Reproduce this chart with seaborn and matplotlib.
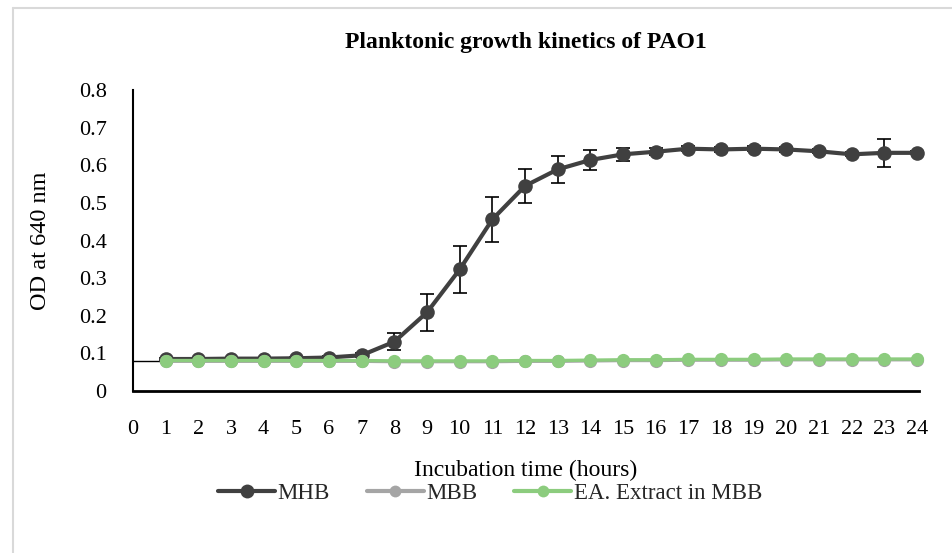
import matplotlib
matplotlib.use("Agg")
import matplotlib.pyplot as plt
from matplotlib.lines import Line2D
import seaborn as sns
import pandas as pd

hours = list(range(1, 25))
mhb = [0.085, 0.085, 0.086, 0.086, 0.087, 0.089, 0.095, 0.131, 0.209, 0.323,
       0.456, 0.545, 0.589, 0.614, 0.629, 0.636, 0.644, 0.642, 0.644, 0.642,
       0.637, 0.629, 0.633, 0.633]
mhb_err = [0.003, 0.003, 0.003, 0.003, 0.003, 0.003, 0.005, 0.023, 0.050, 0.063,
           0.060, 0.046, 0.035, 0.027, 0.018, 0.010, 0.006, 0.006, 0.006, 0.006,
           0.005, 0.005, 0.037, 0.004]
mbb = [0.079, 0.079, 0.079, 0.079, 0.079, 0.079, 0.079, 0.078, 0.078, 0.078,
       0.078, 0.079, 0.079, 0.080, 0.081, 0.081, 0.082, 0.082, 0.082, 0.083,
       0.083, 0.083, 0.083, 0.083]
ea = [0.081, 0.081, 0.081, 0.081, 0.081, 0.081, 0.081, 0.080, 0.080, 0.080,
      0.080, 0.081, 0.081, 0.082, 0.083, 0.083, 0.084, 0.084, 0.084, 0.085,
      0.085, 0.085, 0.085, 0.085]
baseline_span = [0, 1]
baseline_value = 0.081
x_ticks = list(range(0, 25))
y_ticks = [0, 0.1, 0.2, 0.3, 0.4, 0.5, 0.6, 0.7, 0.8]
series_names = ["MHB", "MBB", "EA. Extract in MBB"]
colors = ["#404040", "#A5A5A5", "#8CCC7E"]

sns.set_theme(style="white")
plt.rcParams["font.family"] = ["Liberation Serif", "DejaVu Serif"]

fig = plt.figure(figsize=(9.53, 5.53), dpi=100)
ax = fig.add_axes([133 / 953, 1 - 391 / 553, (919 - 133) / 953, (391 - 90) / 553])

df = pd.DataFrame({
    "hour": hours * 3,
    "od": mhb + mbb + ea,
    "series": [series_names[0]] * 24 + [series_names[1]] * 24 + [series_names[2]] * 24,
})

# thin connector from the origin column to the first reading
ax.plot(baseline_span, [baseline_value, baseline_value], color="black", lw=1.0, zorder=1)

ax.errorbar(hours, mhb, yerr=mhb_err, fmt="none", ecolor="black",
            elinewidth=1.2, capsize=5, capthick=1.2, zorder=2, clip_on=False)

for name, col, lw, ms, z in zip(series_names, colors, [3.0, 2.4, 2.4], [10.5, 9.5, 9.5], [3, 4, 5]):
    sub = df[df["series"] == name]
    sns.lineplot(data=sub, x="hour", y="od", ax=ax, color=col, linewidth=lw,
                 marker="o", markersize=ms, markeredgewidth=0, zorder=z,
                 legend=False, clip_on=False)

ax.set_xlim(0, 24.06)
ax.set_ylim(0, 0.8)
ax.set_xticks(x_ticks)
ax.set_xticklabels([str(t) for t in x_ticks])
ax.set_yticks(y_ticks)
ax.set_yticklabels(["0" if t == 0 else f"{t:.1f}" for t in y_ticks])
ax.tick_params(axis="both", length=0, labelsize=16, colors="black")
ax.tick_params(axis="x", pad=21)
ax.tick_params(axis="y", pad=19)

for side in ["top", "right"]:
    ax.spines[side].set_visible(False)
ax.spines["left"].set_color("black")
ax.spines["left"].set_linewidth(1.5)
ax.spines["bottom"].set_color("black")
ax.spines["bottom"].set_linewidth(2.0)

ax.set_xlabel("Incubation time (hours)", fontsize=17, color="black", labelpad=15)
ax.set_ylabel("OD at 640 nm", fontsize=17.5, color="black", labelpad=20)
ax.set_title("Planktonic growth kinetics of PAO1", fontsize=17, fontweight="bold",
             color="black", pad=30)

handles = [Line2D([0], [0], color=c, lw=3, marker="o", markersize=ms, markeredgewidth=0)
           for c, ms in zip(colors, [10, 8.5, 8.5])]
fig.legend(handles, series_names, loc="center", bbox_to_anchor=(490 / 953, 1 - 493 / 553),
           ncol=3, frameon=False, fontsize=16.5, handlelength=2.5, handletextpad=0.1,
           columnspacing=1.6)

# light chart-area border along the top and left edges
fig.add_artist(Line2D([13 / 953, 13 / 953], [0, 1 - 8 / 553], color="#D9D9D9", lw=1.5,
                      transform=fig.transFigure))
fig.add_artist(Line2D([13 / 953, 1], [1 - 8 / 553, 1 - 8 / 553], color="#D9D9D9", lw=1.5,
                      transform=fig.transFigure))

fig.savefig("out.png", dpi=100)
